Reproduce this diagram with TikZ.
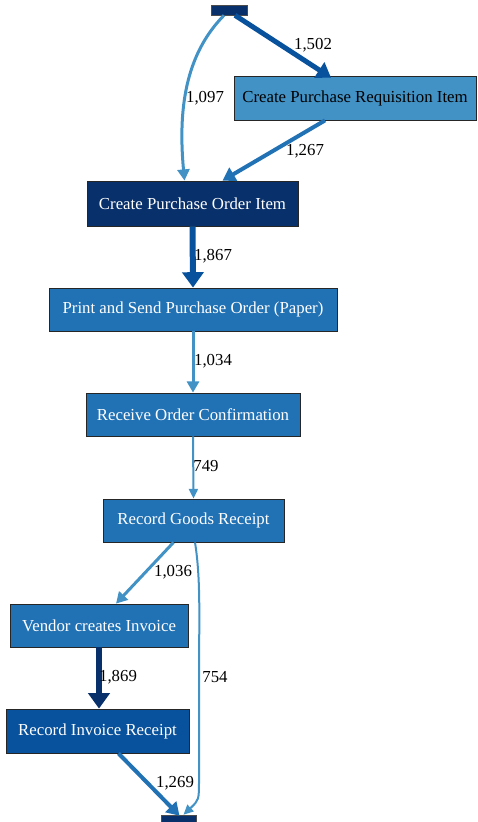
\documentclass[tikz,border=0pt]{standalone}
\usepackage{fontspec}
\setmainfont{Liberation Serif}
\usetikzlibrary{arrows.meta}
\definecolor{bA}{HTML}{08306B}
\definecolor{bB}{HTML}{08519C}
\definecolor{bC}{HTML}{2171B5}
\definecolor{bD}{HTML}{4292C6}
\tikzset{
  act/.style={draw=black!85, line width=0.8pt, inner sep=0pt, text=white,
    font=\fontsize{16.8}{19}\selectfont, anchor=center},
  term/.style={draw=black!70, line width=0.6pt, fill=bA, inner sep=0pt},
  flow/.style={line width=#1pt,
    -{Triangle[length={1.4*#1pt+7pt},width={3*#1pt+3pt}]}},
  lbl/.style={font=\fontsize{16.8}{19}\selectfont, text=black, inner sep=1pt}
}
\begin{document}
\begin{tikzpicture}[x=1pt,y=-1pt]
\useasboundingbox (0,0) rectangle (477,822);
% terminal bars
\node[term, minimum width=36pt, minimum height=10pt] (start) at (229,10) {};
\node[term, minimum width=35pt, minimum height=10pt] (end) at (178.5,820) {};
% activities
\node[act, fill=bD, text=black, minimum width=242pt, minimum height=44pt] (cpri) at (355,98) {Create Purchase Requisition Item};
\node[act, fill=bA, minimum width=211pt, minimum height=45pt] (cpoi) at (192.5,203.5) {Create Purchase Order Item};
\node[act, fill=bC, minimum width=288pt, minimum height=43pt] (print) at (193,309.5) {Print and Send Purchase Order (Paper)};
\node[act, fill=bC, minimum width=214pt, minimum height=43pt] (roc) at (193,414.5) {Receive Order Confirmation};
\node[act, fill=bC, minimum width=181pt, minimum height=43pt] (rgr) at (193.5,520.5) {Record Goods Receipt};
\node[act, fill=bC, minimum width=178pt, minimum height=43pt] (vci) at (99,625.5) {Vendor creates Invoice};
\node[act, fill=bB, minimum width=183pt, minimum height=44pt] (rir) at (97.5,731) {Record Invoice Receipt};
% connectors
\draw[flow=5, bB] ([xshift=6pt]start.south) -- ([xshift=-24pt,yshift=-2pt]cpri.north);
\node[lbl] at (313,45) {1,502};
\draw[flow=3, bD] ([xshift=-5pt]start.south) .. controls (185,55) and (178,110) .. ([xshift=-8pt]cpoi.north);
\node[lbl] at (205,98) {1,097};
\draw[flow=4, bC] ([xshift=-30pt]cpri.south) -- ([xshift=30pt]cpoi.north);
\node[lbl] at (305,151) {1,267};
\draw[flow=6, bB] (cpoi.south) -- (print.north);
\node[lbl] at (213,256) {1,867};
\draw[flow=3, bD] (print.south) -- (roc.north);
\node[lbl] at (213,361) {1,034};
\draw[flow=2, bD] (roc.south) -- (rgr.north);
\node[lbl] at (206,466) {749};
\draw[flow=3, bD] ([xshift=-20pt]rgr.south) -- ([xshift=17pt]vci.north);
\node[lbl] at (173,572) {1,036};
\draw[flow=2, bD] ([xshift=1.5pt]rgr.south) .. controls (201,580) and (199,620) .. (199,680)
  -- (199,780) .. controls (199,800) .. ([xshift=5pt]end.north);
\node[lbl] at (215,677) {754};
\draw[flow=6, bA] (vci.south) -- ([xshift=1.5pt]rir.north);
\node[lbl] at (118,677) {1,869};
\draw[flow=4, bC] ([xshift=21pt]rir.south) -- ([xshift=1pt,yshift=-1pt]end.north);
\node[lbl] at (175,783) {1,269};
\end{tikzpicture}
\end{document}
